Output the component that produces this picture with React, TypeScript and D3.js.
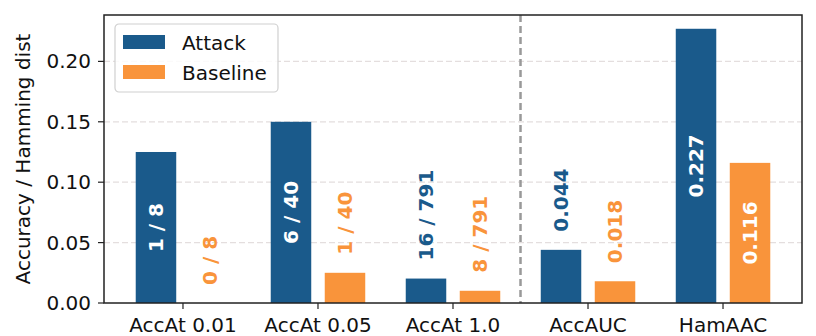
import React from "react";
import * as d3 from "d3";

// metrics shown on the x axis
const categories = ["AccAt 0.01", "AccAt 0.05", "AccAt 1.0", "AccAUC", "HamAAC"];
const attackValues = [0.125, 0.15, 16 / 791, 0.044, 0.227];
const baselineValues = [0, 0.025, 8 / 791, 0.018, 0.116];
const attackLabels = ["1 / 8", "6 / 40", "16 / 791", "0.044", "0.227"];
const baselineLabels = ["0 / 8", "1 / 40", "8 / 791", "0.018", "0.116"];
// label goes inside the bar when it's tall enough
const attackInside = [true, true, false, false, true];
const baselineInside = [false, false, false, false, true];
const yTicks = [0, 0.05, 0.1, 0.15, 0.2];
const series = ["Attack", "Baseline"];

const W = 816;
const H = 336;
const margin = { top: 15, right: 14, bottom: 33, left: 104 };
const attackColor = "#1a5a8b";
const baselineColor = "#f9943b";
const font = "DejaVu Sans, sans-serif";

export default function App() {
  const innerW = W - margin.left - margin.right;
  const innerH = H - margin.top - margin.bottom;

  const x = d3.scaleLinear().domain([-0.585, 4.585]).range([0, innerW]);
  const y = d3.scaleLinear().domain([0, 0.2384]).range([innerH, 0]);
  const barW = x(0.3) - x(0);
  const off = 0.2;

  const bar = (v: number, i: number, dx: number, color: string, label: string, inside: boolean, key: string) => {
    const cx = x(i + dx);
    const top = y(v);
    const ly = inside ? (top + y(0)) / 2 : y(v + 0.015);
    return (
      <g key={key}>
        <rect x={cx - barW / 2} y={top} width={barW} height={y(0) - top} fill={color} />
        <text
          transform={`translate(${cx},${ly}) rotate(-90)`}
          textAnchor={inside ? "middle" : "start"}
          dominantBaseline="central"
          fontWeight="bold"
          fontSize={20}
          fill={inside ? "#ffffff" : color}
        >
          {label}
        </text>
      </g>
    );
  };

  return (
    <svg width={W} height={H} style={{ position: "absolute", left: 0, top: 0 }} fontFamily={font}>
      <rect width={W} height={H} fill="#fff" />
      <g transform={`translate(${margin.left},${margin.top})`}>
        {yTicks.slice(1).map((t) => (
          <line key={t} x1={0} x2={innerW} y1={y(t)} y2={y(t)} stroke="#e4dede" strokeWidth={1.2} strokeDasharray="6,3" />
        ))}
        <line
          x1={x(2.5)}
          x2={x(2.5)}
          y1={0}
          y2={innerH}
          stroke="#999"
          strokeWidth={2.5}
          strokeDasharray="7,4"
        />
        {attackValues.map((v, i) => bar(v, i, -off, attackColor, attackLabels[i], attackInside[i], "a" + i))}
        {baselineValues.map((v, i) => bar(v, i, off, baselineColor, baselineLabels[i], baselineInside[i], "b" + i))}
        <rect x={0} y={0} width={innerW} height={innerH} fill="none" stroke="#222" strokeWidth={1.5} />
        {yTicks.map((t) => (
          <g key={t} transform={`translate(0,${y(t)})`}>
            <line x1={-6} x2={0} stroke="#222" strokeWidth={1.2} />
            <text x={-13} dy="0.35em" textAnchor="end" fontSize={20} fill="#111">
              {t.toFixed(2)}
            </text>
          </g>
        ))}
        {categories.map((c, i) => (
          <g key={c} transform={`translate(${x(i)},${innerH})`}>
            <line y1={0} y2={6} stroke="#222" strokeWidth={1.2} />
            <text y={29} textAnchor="middle" fontSize={20} fill="#111">
              {c}
            </text>
          </g>
        ))}
        <text
          transform={`translate(${-74},${innerH / 2}) rotate(-90)`}
          textAnchor="middle"
          fontSize={20}
          fill="#111"
        >
          Accuracy / Hamming dist
        </text>
        <g transform="translate(11,9)">
          <rect x={0} y={0} width={163} height={68} rx={4} fill="#fff" fillOpacity={0.85} stroke="#d0d0d0" strokeWidth={1.2} />
          {series.map((s, i) => (
            <g key={s} transform={`translate(0,${i * 30})`}>
              <rect x={8} y={11} width={42} height={14} fill={i === 0 ? attackColor : baselineColor} />
              <text x={67} y={26} fontSize={20} fill="#111">
                {s}
              </text>
            </g>
          ))}
        </g>
      </g>
    </svg>
  );
}
